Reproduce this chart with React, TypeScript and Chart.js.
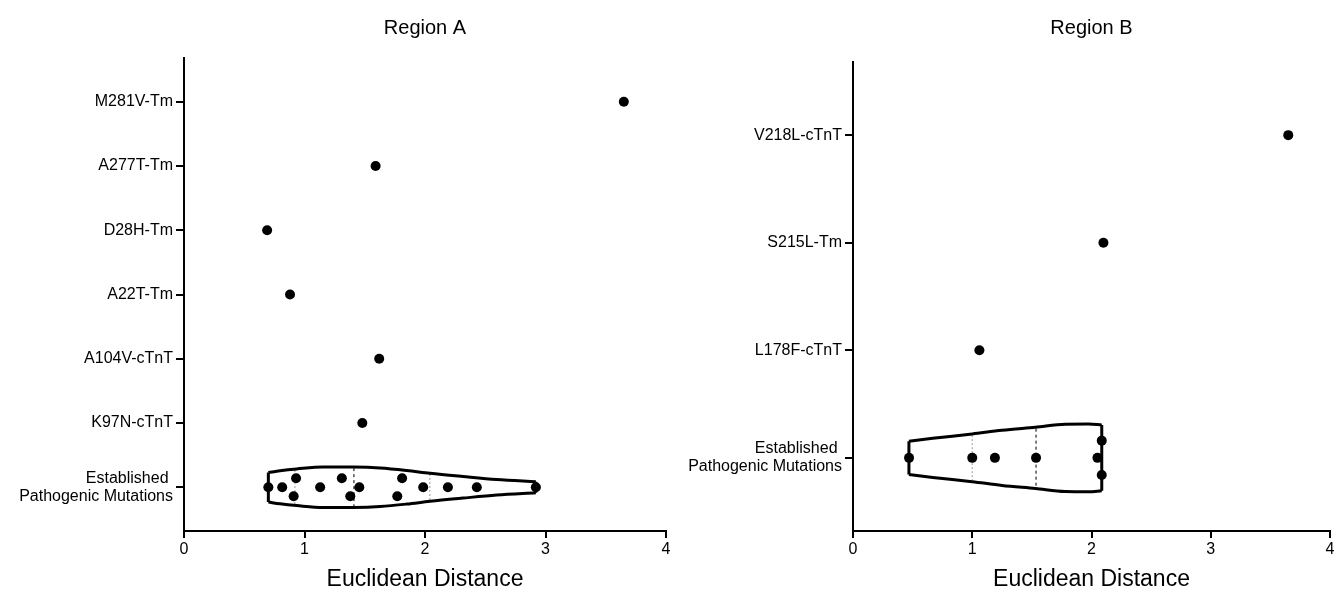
import React, { useEffect, useRef } from "react";
import { Chart, registerables } from "chart.js";

Chart.register(...registerables);

// ---------- Region A data ----------
const categoriesA: (string | string[])[] = [
  "M281V-Tm",
  "A277T-Tm",
  "D28H-Tm",
  "A22T-Tm",
  "A104V-cTnT",
  "K97N-cTnT",
  ["Established ", "Pathogenic Mutations"],
];
const mutationValuesA = [3.65, 1.59, 0.69, 0.88, 1.62, 1.48];
const establishedA = [0.7, 0.815, 0.93, 0.91, 1.13, 1.31, 1.38, 1.455, 1.81, 1.77, 1.985, 2.19, 2.43, 2.92];
const swarmOffsetA = [0, 0, -0.14, 0.14, 0, -0.14, 0.14, 0, -0.14, 0.14, 0, 0, 0, 0];
const densityXA = [0.7, 0.797, 0.935, 1.156, 1.405, 1.627, 1.848, 2.041, 2.315, 2.595, 2.92];
const densityHalfWidthA = [0.23, 0.257, 0.285, 0.316, 0.314, 0.299, 0.261, 0.218, 0.168, 0.121, 0.086];
const quartilesA = [0.92, 1.41, 2.04];

// ---------- Region B data ----------
const categoriesB: (string | string[])[] = [
  "V218L-cTnT",
  "S215L-Tm",
  "L178F-cTnT",
  ["Established ", "Pathogenic Mutations"],
];
const mutationValuesB = [3.65, 2.1, 1.06];
const establishedB = [0.47, 1.0, 1.19, 1.535, 2.086, 2.05, 2.086];
const swarmOffsetB = [0, 0, 0, 0, -0.16, 0, 0.16];
const densityXB = [0.469, 0.669, 1.0, 1.25, 1.53, 1.78, 1.975, 2.086];
const densityHalfWidthB = [0.155, 0.182, 0.222, 0.256, 0.285, 0.313, 0.315, 0.306];
const quartilesB = [1.0, 1.535, 2.086];

const xTicks = [0, 1, 2, 3, 4];

const FONT = "'Liberation Sans', Arial, Helvetica, sans-serif";

function interp(xs: number[], ys: number[], x: number) {
  if (x <= xs[0]) return ys[0];
  for (let i = 1; i < xs.length; i++) {
    if (x <= xs[i]) {
      const t = (x - xs[i - 1]) / (xs[i] - xs[i - 1]);
      return ys[i - 1] + t * (ys[i] - ys[i - 1]);
    }
  }
  return ys[ys.length - 1];
}

type PanelSpec = {
  title: string;
  categories: (string | string[])[];
  mutationValues: number[];
  established: number[];
  swarmOffset: number[];
  densityX: number[];
  densityHalfWidth: number[];
  quartiles: number[];
  yAxisWidth: number;
  padRight: number;
  titlePadBottom: number;
};

function makeConfig(p: PanelSpec): any {
  const idx = p.categories.length - 1;
  const n = p.categories.length;
  const dx = p.densityX;
  const hw = p.densityHalfWidth;
  const last = dx.length - 1;

  const lineBase = {
    showLine: true,
    fill: false,
    pointRadius: 0,
    borderColor: "#000",
    borderWidth: 3,
    order: 5,
  };

  const datasets: any[] = [
    {
      label: "mutations",
      data: p.mutationValues.map((v, i) => ({ x: v, y: i })),
      pointRadius: 5,
      pointBackgroundColor: "#000",
      pointBorderWidth: 0,
      showLine: false,
      order: 0,
    },
    {
      label: "established",
      data: p.established.map((v, i) => ({ x: v, y: idx + p.swarmOffset[i] })),
      pointRadius: 5,
      pointBackgroundColor: "#000",
      pointBorderWidth: 0,
      showLine: false,
      order: 1,
    },
    {
      ...lineBase,
      label: "violin-top",
      data: dx.map((x, k) => ({ x, y: idx - hw[k] })),
      cubicInterpolationMode: "monotone",
    },
    {
      ...lineBase,
      label: "violin-bottom",
      data: dx.map((x, k) => ({ x, y: idx + hw[k] })),
      cubicInterpolationMode: "monotone",
    },
    {
      ...lineBase,
      label: "violin-left",
      data: [
        { x: dx[0], y: idx - hw[0] },
        { x: dx[0], y: idx + hw[0] },
      ],
    },
    {
      ...lineBase,
      label: "violin-right",
      data: [
        { x: dx[last], y: idx - hw[last] },
        { x: dx[last], y: idx + hw[last] },
      ],
    },
  ];

  p.quartiles.forEach((q, qi) => {
    const h = interp(dx, hw, q) * 0.95;
    const isMedian = qi === 1;
    datasets.push({
      label: isMedian ? "median" : "quartile",
      showLine: true,
      fill: false,
      pointRadius: 0,
      borderColor: isMedian ? "#444" : "#aaa",
      borderWidth: isMedian ? 1.4 : 1.2,
      borderDash: isMedian ? [3, 3] : [2, 2],
      order: 6,
      data: [
        { x: q, y: idx - h },
        { x: q, y: idx + h },
      ],
    });
  });

  return {
    type: "scatter",
    data: { datasets },
    options: {
      animation: false,
      responsive: false,
      events: [],
      layout: { padding: { top: 0, left: 0, right: p.padRight, bottom: 0 } },
      plugins: {
        legend: { display: false },
        tooltip: { enabled: false },
        title: {
          display: true,
          text: p.title,
          fullSize: false,
          color: "#000",
          font: { family: FONT, size: 20, weight: "normal", lineHeight: 1.2 },
          padding: { top: 16, bottom: p.titlePadBottom },
        },
      },
      scales: {
        x: {
          type: "linear",
          min: 0,
          max: 4,
          afterBuildTicks: (s: any) => {
            s.ticks = xTicks.map((v) => ({ value: v }));
          },
          ticks: {
            color: "#000",
            font: { family: FONT, size: 16 },
            padding: 2,
            maxRotation: 0,
          },
          grid: {
            display: true,
            drawOnChartArea: false,
            drawTicks: true,
            tickLength: 7,
            color: "#000",
            lineWidth: 2,
          },
          border: { display: true, color: "#000", width: 2 },
          title: {
            display: true,
            text: "Euclidean Distance",
            color: "#000",
            font: { family: FONT, size: 23, lineHeight: 1.1 },
            padding: { top: 0, bottom: 0 },
          },
          afterFit: (s: any) => {
            s.height = 61;
            s.paddingLeft = 0;
            s.paddingRight = 0;
          },
        },
        y: {
          type: "linear",
          reverse: true,
          min: -0.68,
          max: n - 1 + 0.68,
          afterBuildTicks: (s: any) => {
            s.ticks = p.categories.map((_, i) => ({ value: i }));
          },
          ticks: {
            color: "#000",
            font: { family: FONT, size: 16, lineHeight: 1.15 },
            padding: 3,
            autoSkip: false,
            callback: (v: any) => p.categories[Math.round(v)],
          },
          grid: {
            display: true,
            drawOnChartArea: false,
            drawTicks: true,
            tickLength: 8,
            color: "#000",
            lineWidth: 2,
          },
          border: { display: true, color: "#000", width: 2 },
          afterFit: (s: any) => {
            s.width = p.yAxisWidth;
            s.paddingTop = 0;
            s.paddingBottom = 0;
          },
        },
      },
    },
  };
}

function Panel({ spec, left, width }: { spec: PanelSpec; left: number; width: number }) {
  const ref = useRef<HTMLCanvasElement | null>(null);
  useEffect(() => {
    if (!ref.current) return;
    const chart = new Chart(ref.current, makeConfig(spec));
    return () => chart.destroy();
  }, []);
  return (
    <canvas
      ref={ref}
      width={width}
      height={592}
      style={{ position: "absolute", left, top: 0, width, height: 592 }}
    />
  );
}

const panelA: PanelSpec = {
  title: "Region A",
  categories: categoriesA,
  mutationValues: mutationValuesA,
  established: establishedA,
  swarmOffset: swarmOffsetA,
  densityX: densityXA,
  densityHalfWidth: densityHalfWidthA,
  quartiles: quartilesA,
  yAxisWidth: 184,
  padRight: 14,
  titlePadBottom: 18,
};

const panelB: PanelSpec = {
  title: "Region B",
  categories: categoriesB,
  mutationValues: mutationValuesB,
  established: establishedB,
  swarmOffset: swarmOffsetB,
  densityX: densityXB,
  densityHalfWidth: densityHalfWidthB,
  quartiles: quartilesB,
  yAxisWidth: 183,
  padRight: 2,
  titlePadBottom: 22,
};

export default function App() {
  Chart.defaults.font.family = FONT;
  Chart.defaults.color = "#000";
  return (
    <div
      style={{
        position: "fixed",
        left: 0,
        top: 0,
        width: 1335,
        height: 592,
        background: "#fff",
        overflow: "hidden",
      }}
    >
      <Panel spec={panelA} left={0} width={680} />
      <Panel spec={panelB} left={670} width={665} />
    </div>
  );
}
